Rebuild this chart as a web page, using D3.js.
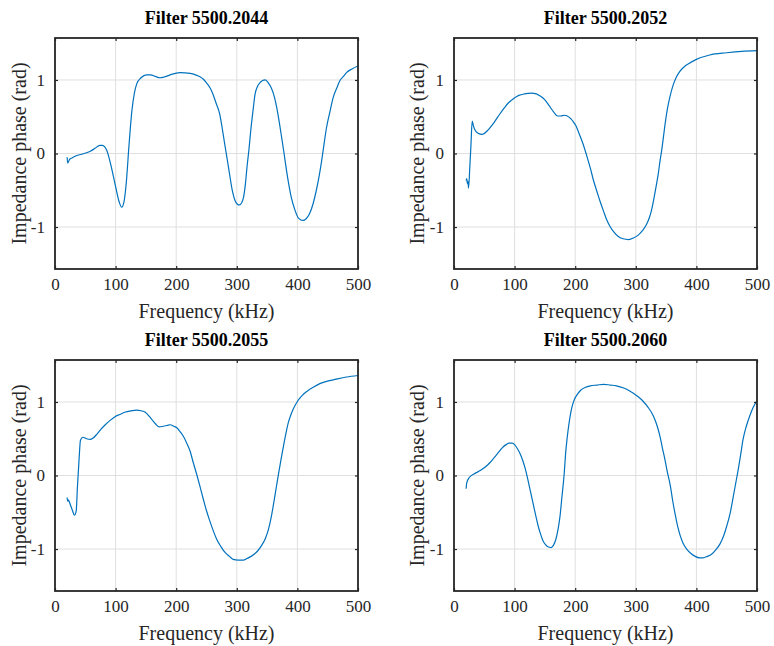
<!DOCTYPE html>
<html lang="en">

<head>
  <meta charset="utf-8">
  <title>Impedance phase of filters</title>
  <script src="https://cdn.jsdelivr.net/npm/d3@7"></script>
  <style>
    body { margin: 0; background: #fff; }
    text { font-family: "Palatino Linotype", Palatino, "Liberation Serif", "DejaVu Serif", serif; fill: #262626; }
  </style>
</head>

<body>
  <div id="chart-area"></div>

  <script>
    // frequencies in kHz, phases in rad
    var titles = ["Filter 5500.2044", "Filter 5500.2052", "Filter 5500.2055", "Filter 5500.2060"];

    var freq2044 = [20, 21, 24, 28, 35, 44, 52, 58, 66, 74, 78, 85, 92, 100, 106, 110, 114, 118, 122, 127, 131, 135, 142, 151, 158, 165, 173, 180, 190, 206, 223, 232, 240, 245, 250, 256, 261, 266, 272, 276, 280, 285, 289, 293, 297, 301, 304, 308, 311, 314, 317, 320, 323, 327, 330, 334, 338, 342, 347, 352, 357, 362, 366, 370, 374, 378, 382, 386, 390, 396, 401, 405, 409, 414, 420, 426, 431, 436, 440, 444, 448, 454, 459, 465, 470, 476, 481, 490, 500];
    var phase2044 = [-0.05, -0.13, -0.08, -0.06, -0.03, -0.01, 0.01, 0.03, 0.07, 0.11, 0.11, 0.05, -0.15, -0.45, -0.66, -0.73, -0.65, -0.36, 0.1, 0.59, 0.82, 0.95, 1.03, 1.07, 1.07, 1.05, 1.03, 1.04, 1.07, 1.10, 1.09, 1.07, 1.04, 1.01, 0.96, 0.89, 0.80, 0.68, 0.53, 0.34, 0.13, -0.12, -0.33, -0.52, -0.64, -0.69, -0.70, -0.67, -0.60, -0.43, -0.17, 0.05, 0.31, 0.60, 0.80, 0.91, 0.96, 0.99, 1.00, 0.96, 0.89, 0.77, 0.62, 0.43, 0.22, 0.00, -0.23, -0.43, -0.60, -0.77, -0.87, -0.90, -0.91, -0.89, -0.82, -0.68, -0.51, -0.30, -0.10, 0.13, 0.35, 0.58, 0.76, 0.89, 0.99, 1.05, 1.10, 1.15, 1.19];

    var freq2052 = [20, 21, 22, 23, 24, 26, 28, 30, 32, 34, 39, 47, 55, 66, 75, 83, 90, 99, 107, 116, 129, 143, 150, 157, 164, 171, 176, 182, 187, 193, 197, 201, 206, 213, 219, 225, 230, 236, 241, 247, 252, 258, 264, 271, 279, 288, 296, 304, 311, 318, 322, 326, 329, 333, 337, 340, 343, 346, 349, 352, 356, 362, 367, 373, 380, 387, 400, 422, 450, 475, 500];
    var phase2052 = [-0.37, -0.34, -0.41, -0.38, -0.47, -0.20, 0.12, 0.44, 0.38, 0.33, 0.28, 0.26, 0.31, 0.42, 0.53, 0.62, 0.69, 0.75, 0.79, 0.81, 0.82, 0.78, 0.73, 0.65, 0.57, 0.51, 0.51, 0.52, 0.51, 0.47, 0.43, 0.38, 0.28, 0.13, -0.03, -0.20, -0.36, -0.52, -0.65, -0.79, -0.90, -1.00, -1.07, -1.13, -1.16, -1.17, -1.15, -1.11, -1.05, -0.96, -0.88, -0.77, -0.65, -0.47, -0.28, -0.10, 0.06, 0.25, 0.44, 0.60, 0.76, 0.94, 1.04, 1.12, 1.18, 1.22, 1.28, 1.34, 1.37, 1.39, 1.40];

    var freq2055 = [20, 21, 22, 25, 29, 32, 35, 37, 40, 42, 46, 52, 58, 63, 69, 76, 83, 91, 99, 107, 115, 125, 135, 142, 149, 155, 160, 166, 172, 179, 185, 190, 196, 201, 207, 212, 218, 223, 228, 234, 239, 245, 250, 256, 262, 267, 274, 281, 288, 294, 302, 311, 319, 327, 334, 341, 347, 352, 356, 360, 364, 368, 373, 377, 381, 385, 389, 393, 401, 408, 415, 426, 437, 448, 459, 481, 500];
    var phase2055 = [-0.30, -0.35, -0.33, -0.39, -0.48, -0.54, -0.48, -0.16, 0.26, 0.48, 0.52, 0.50, 0.49, 0.51, 0.56, 0.63, 0.69, 0.75, 0.80, 0.83, 0.86, 0.88, 0.89, 0.88, 0.86, 0.81, 0.76, 0.70, 0.66, 0.67, 0.68, 0.69, 0.67, 0.65, 0.59, 0.53, 0.43, 0.33, 0.18, 0.01, -0.14, -0.33, -0.48, -0.63, -0.77, -0.87, -0.97, -1.05, -1.10, -1.14, -1.15, -1.15, -1.12, -1.08, -1.03, -0.95, -0.86, -0.74, -0.60, -0.42, -0.22, -0.02, 0.22, 0.40, 0.57, 0.72, 0.82, 0.90, 1.02, 1.09, 1.14, 1.20, 1.25, 1.28, 1.30, 1.34, 1.36];

    var freq2060 = [20, 21, 25, 33, 44, 55, 60, 66, 73, 80, 86, 91, 96, 100, 105, 110, 114, 118, 122, 126, 131, 135, 139, 143, 147, 151, 155, 160, 164, 168, 172, 175, 178, 182, 184, 187, 190, 193, 196, 199, 204, 209, 217, 225, 236, 247, 258, 268, 280, 290, 296, 304, 312, 320, 329, 335, 340, 344, 348, 352, 357, 361, 365, 369, 373, 378, 384, 391, 398, 405, 411, 418, 425, 432, 439, 445, 450, 456, 461, 465, 469, 473, 477, 482, 488, 494, 500];
    var phase2060 = [-0.18, -0.10, -0.03, 0.02, 0.07, 0.14, 0.18, 0.24, 0.31, 0.38, 0.42, 0.44, 0.44, 0.42, 0.36, 0.28, 0.19, 0.08, -0.06, -0.21, -0.40, -0.55, -0.69, -0.80, -0.89, -0.94, -0.97, -0.98, -0.95, -0.87, -0.72, -0.55, -0.30, 0.04, 0.28, 0.53, 0.72, 0.87, 0.97, 1.04, 1.11, 1.16, 1.20, 1.22, 1.23, 1.24, 1.23, 1.22, 1.19, 1.15, 1.12, 1.07, 1.01, 0.93, 0.81, 0.68, 0.53, 0.37, 0.22, 0.05, -0.14, -0.35, -0.53, -0.69, -0.81, -0.92, -1.00, -1.06, -1.10, -1.12, -1.12, -1.10, -1.07, -1.01, -0.93, -0.82, -0.69, -0.50, -0.28, -0.10, 0.08, 0.28, 0.49, 0.66, 0.81, 0.93, 1.02];

    var xTicks = [0, 100, 200, 300, 400, 500];
    var yTicks = [-1, 0, 1];

    var freqs = [freq2044, freq2052, freq2055, freq2060];
    var phases = [phase2044, phase2052, phase2055, phase2060];

    var svgWidth = 774;
    var svgHeight = 646;

    // subplot boxes (MATLAB-like placement)
    var colLeft = [55, 454];
    var rowTop = [38, 360];
    var yLabelX = [19, 417];
    var plotWidth = 303;
    var plotHeight = 231;

    var svg = d3.select("#chart-area")
                .append("svg")
                .attr("width", svgWidth)
                .attr("height", svgHeight);

    titles.forEach(function(title, i) {
      var col = i % 2;
      var left = colLeft[col];
      var top = rowTop[Math.floor(i / 2)];

      var x = d3.scaleLinear().domain([0, 500]).range([0, plotWidth]);
      var y = d3.scaleLinear().domain([-Math.PI / 2, Math.PI / 2]).range([plotHeight, 0]);

      var g = svg.append("g")
                 .attr("transform", "translate(" + left + "," + top + ")");

      // grid
      g.append("g")
       .selectAll("line")
       .data(xTicks)
       .enter().append("line")
         .attr("x1", (d) => x(d)).attr("x2", (d) => x(d))
         .attr("y1", 0).attr("y2", plotHeight)
         .attr("stroke", "#dfdfdf").attr("stroke-width", 1);
      g.append("g")
       .selectAll("line")
       .data(yTicks)
       .enter().append("line")
         .attr("x1", 0).attr("x2", plotWidth)
         .attr("y1", (d) => y(d)).attr("y2", (d) => y(d))
         .attr("stroke", "#dfdfdf").attr("stroke-width", 1);

      // data line
      var data = freqs[i].map((f, k) => ({ f: f, p: phases[i][k] }));
      var line = d3.line()
                   .x((d) => x(d.f))
                   .y((d) => y(d.p))
                   .curve(d3.curveMonotoneX);
      g.append("path")
       .datum(data)
       .attr("d", line)
       .attr("fill", "none")
       .attr("stroke", "#0072BD")
       .attr("stroke-width", 1.2);

      // axes with inward ticks on all four sides
      g.append("g")
       .attr("transform", "translate(0," + plotHeight + ")")
       .call(d3.axisBottom(x).tickValues(xTicks).tickSizeInner(-3).tickSizeOuter(0).tickPadding(9));
      g.append("g")
       .call(d3.axisLeft(y).tickValues(yTicks).tickSizeInner(-3).tickSizeOuter(0).tickPadding(10)
               .tickFormat((d) => String(d)));
      g.append("g")
       .call(d3.axisTop(x).tickValues(xTicks).tickSizeInner(-3).tickSizeOuter(0).tickFormat(""));
      g.append("g")
       .attr("transform", "translate(" + plotWidth + ",0)")
       .call(d3.axisRight(y).tickValues(yTicks).tickSizeInner(-3).tickSizeOuter(0).tickFormat(""));

      g.selectAll(".domain").remove();
      g.selectAll(".tick line").attr("stroke", "#262626").attr("stroke-width", 1.2);
      g.selectAll(".tick text").attr("font-size", 17).attr("fill", "#262626");
      g.selectAll("g").attr("font-family", null);

      g.append("rect")
       .attr("width", plotWidth)
       .attr("height", plotHeight)
       .attr("fill", "none")
       .attr("stroke", "#262626")
       .attr("stroke-width", 1.8);

      // labels
      g.append("text")
       .attr("x", plotWidth / 2)
       .attr("y", -14)
       .attr("text-anchor", "middle")
       .attr("font-size", 18)
       .attr("font-weight", "bold")
       .style("fill", "#000")
       .text(title);

      g.append("text")
       .attr("x", plotWidth / 2)
       .attr("y", plotHeight + 49)
       .attr("text-anchor", "middle")
       .attr("font-size", 20)
       .text("Frequency (kHz)");

      g.append("text")
       .attr("transform", "translate(" + (yLabelX[col] - left + 7) + "," + (plotHeight / 2) + ") rotate(-90)")
       .attr("text-anchor", "middle")
       .attr("font-size", 20)
       .text("Impedance phase (rad)");
    });
  </script>
</body>

</html>
